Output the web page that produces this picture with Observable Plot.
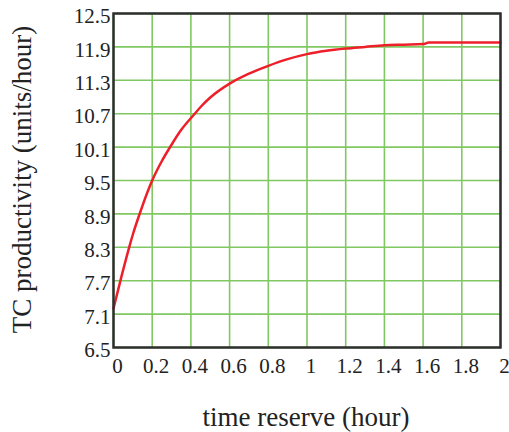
<!DOCTYPE html>
<html>
<head>
<meta charset="utf-8">
<script src="https://cdn.jsdelivr.net/npm/d3@7"></script>
<script src="https://cdn.jsdelivr.net/npm/@observablehq/plot@0.6"></script>
<style>
  html, body { margin: 0; padding: 0; background: #fff; }
  #chart svg { display: block; }
</style>
</head>
<body>
<div id="chart"></div>
<script>
const timeReserve = [0, 0.04, 0.081, 0.1, 0.138, 0.15, 0.2, 0.25, 0.296, 0.35, 0.42, 0.45, 0.5, 0.6, 0.7, 0.8, 0.9, 1.0, 1.1, 1.2, 1.3, 1.4, 1.5, 1.6, 1.63, 1.8, 2.0];
const productivity = [7.2, 7.76, 8.3, 8.53, 8.93, 9.05, 9.5, 9.85, 10.12, 10.41, 10.7, 10.82, 10.99, 11.24, 11.42, 11.56, 11.68, 11.77, 11.83, 11.87, 11.9, 11.93, 11.94, 11.95, 11.98, 11.98, 11.98];
const xTicks = [0, 0.2, 0.4, 0.6, 0.8, 1, 1.2, 1.4, 1.6, 1.8, 2];
const yTicks = [6.5, 7.1, 7.7, 8.3, 8.9, 9.5, 10.1, 10.7, 11.3, 11.9, 12.5];
const xTitle = "time reserve (hour)";
const yTitle = "TC productivity (units/hour)";

const data = timeReserve.map((t, i) => ({t, p: productivity[i]}));
const font = "Liberation Serif, Times New Roman, serif";

const chart = Plot.plot({
  width: 509,
  height: 432,
  marginLeft: 113,
  marginRight: 9,
  marginTop: 13,
  marginBottom: 85,
  style: {fontFamily: font, fontSize: "21px", color: "#222", background: "#fff", overflow: "visible"},
  x: {domain: [0, 2]},
  y: {domain: [6.5, 12.5]},
  marks: [
    Plot.ruleX(xTicks, {stroke: "#80c862", strokeWidth: 1.6}),
    Plot.ruleY(yTicks, {stroke: "#80c862", strokeWidth: 1.6}),
    Plot.line(data, {x: "t", y: "p", stroke: "#ee1f2a", strokeWidth: 2.5, curve: "monotone-x"}),
    Plot.frame({stroke: "#2e2e2e", strokeWidth: 2.5}),
    Plot.axisX({ticks: xTicks, tickSize: 0, tickPadding: 11, dx: 4, label: null, fontSize: 21, tickFormat: d => String(d)}),
    Plot.axisY({ticks: yTicks, tickSize: 0, tickPadding: 3, dy: 3, label: null, fontSize: 21, tickFormat: d => d.toFixed(1)}),
    Plot.text([xTitle], {text: d => d, frameAnchor: "bottom", textAnchor: "middle", lineAnchor: "middle", dx: -1, dy: 70, fontSize: 27, fill: "#222"}),
    Plot.text([yTitle], {text: d => d, frameAnchor: "left", textAnchor: "middle", lineAnchor: "middle", dx: -91, dy: -1, rotate: -90, fontSize: 27, fill: "#222"})
  ]
});
document.getElementById("chart").appendChild(chart);
</script>
</body>
</html>
